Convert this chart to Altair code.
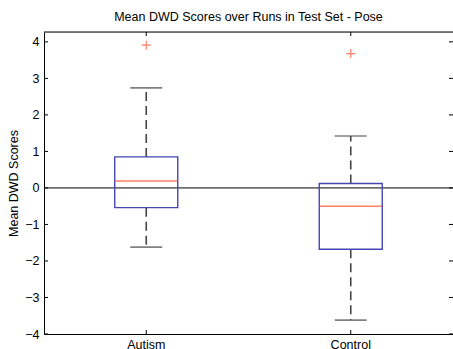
import altair as alt
import pandas as pd

# Box-plot summaries per group
groups = ["Autism", "Control"]
lower_whisker = [-1.62, -3.62]
q1 = [-0.54, -1.68]
median = [0.19, -0.50]
q3 = [0.85, 0.12]
upper_whisker = [2.74, 1.42]
outliers = [3.91, 3.68]

y_ticks = [-4, -3, -2, -1, 0, 1, 2, 3, 4]

W, H = 409, 302
FONT = "Liberation Sans"
FS = 12.5

stats = pd.DataFrame({
    "group": groups,
    "lo": lower_whisker,
    "q1": q1,
    "med": median,
    "q3": q3,
    "hi": upper_whisker,
})
out_df = pd.DataFrame({"group": groups, "v": outliers})
yt_df = pd.DataFrame({"v": y_ticks})
zero_df = pd.DataFrame({"v": [0]})

xscale = alt.Scale(domain=groups, paddingInner=0, paddingOuter=0)
yscale = alt.Scale(domain=[-4, 4.27], nice=False, zero=False)

X = alt.X("group:N", scale=xscale, sort=groups,
          axis=alt.Axis(title=None, labelAngle=0, ticks=False, labelPadding=4,
                        labelFont=FONT, labelFontSize=FS, labelColor="black",
                        domainColor="black", domainWidth=1, labelOverlap=False))

YAX = alt.Axis(title="Mean DWD Scores", values=y_ticks, tickCount=9, ticks=False,
               grid=False, labelPadding=5, labelFont=FONT, labelOverlap=False,
               labelFontSize=FS, labelColor="black", labelFlush=False,
               domainColor="black", domainWidth=1,
               titleFont=FONT, titleFontSize=FS, titleFontWeight="normal",
               titleColor="black", titleX=-24, titleBaseline="bottom")


def Y(field):
    return alt.Y(field, scale=yscale, axis=YAX)


base = alt.Chart(stats)

# axis frame carrying the labels
frame = base.mark_rule(opacity=0).encode(x=X, y=Y("med:Q"))

whisk_style = dict(color="#444444", strokeWidth=1.6, strokeDash=[9, 5])
upper = base.mark_rule(**whisk_style).encode(x=X, y=Y("q3:Q"), y2="hi:Q")
lower = base.mark_rule(**whisk_style).encode(x=X, y=Y("q1:Q"), y2="lo:Q")

cap_hi = base.mark_tick(color="#4a4a4a", size=32, thickness=1.6, orient="horizontal").encode(
    x=X, y=Y("hi:Q"))
cap_lo = base.mark_tick(color="#4a4a4a", size=32, thickness=1.6, orient="horizontal").encode(
    x=X, y=Y("lo:Q"))

box = base.mark_bar(size=63, fill=None, fillOpacity=0, stroke="#4646b4", strokeWidth=1.4).encode(
    x=X, y=Y("q1:Q"), y2="q3:Q")

med = base.mark_tick(color="#ff4a2a", size=63, thickness=1.5, orient="horizontal").encode(
    x=X, y=Y("med:Q"))

pts = alt.Chart(out_df).mark_point(
    shape="M-1,0L1,0M0,-1L0,1", size=81, filled=False, color="#ff4a2a", strokeWidth=1.2
).encode(x=X, y=Y("v:Q"))

zero = alt.Chart(zero_df).mark_rule(color="black", strokeWidth=1).encode(
    y=Y("v:Q"), x=alt.value(0), x2=alt.value(W))

top_border = alt.Chart(zero_df).mark_rule(color="black", strokeWidth=1).encode(
    y=alt.value(0), x=alt.value(0), x2=alt.value(W))

tick_style = dict(color="black", strokeWidth=1)
left_ticks = alt.Chart(yt_df).mark_rule(**tick_style).encode(
    y=Y("v:Q"), x=alt.value(0), x2=alt.value(4))
right_ticks = alt.Chart(yt_df).mark_rule(**tick_style).encode(
    y=Y("v:Q"), x=alt.value(W - 4), x2=alt.value(W))
top_ticks = base.mark_rule(**tick_style).encode(x=X, y=alt.value(0), y2=alt.value(4))
bot_ticks = base.mark_rule(**tick_style).encode(x=X, y=alt.value(H - 4), y2=alt.value(H))

chart = alt.layer(
    frame, zero, upper, lower, cap_hi, cap_lo, box, med, pts,
    top_border, left_ticks, right_ticks, top_ticks, bot_ticks,
).properties(
    width=W, height=H,
    title=alt.TitleParams("Mean DWD Scores over Runs in Test Set - Pose",
                          font=FONT, fontSize=FS, fontWeight="normal",
                          color="black", offset=8, anchor="middle"),
    autosize=alt.AutoSizeParams(type="none"),
    padding={"left": 44, "top": 32, "right": 0, "bottom": 15},
).configure_view(stroke=None).configure(background="white")

chart.save("out.html", embed_options={"renderer": "svg", "actions": False})
